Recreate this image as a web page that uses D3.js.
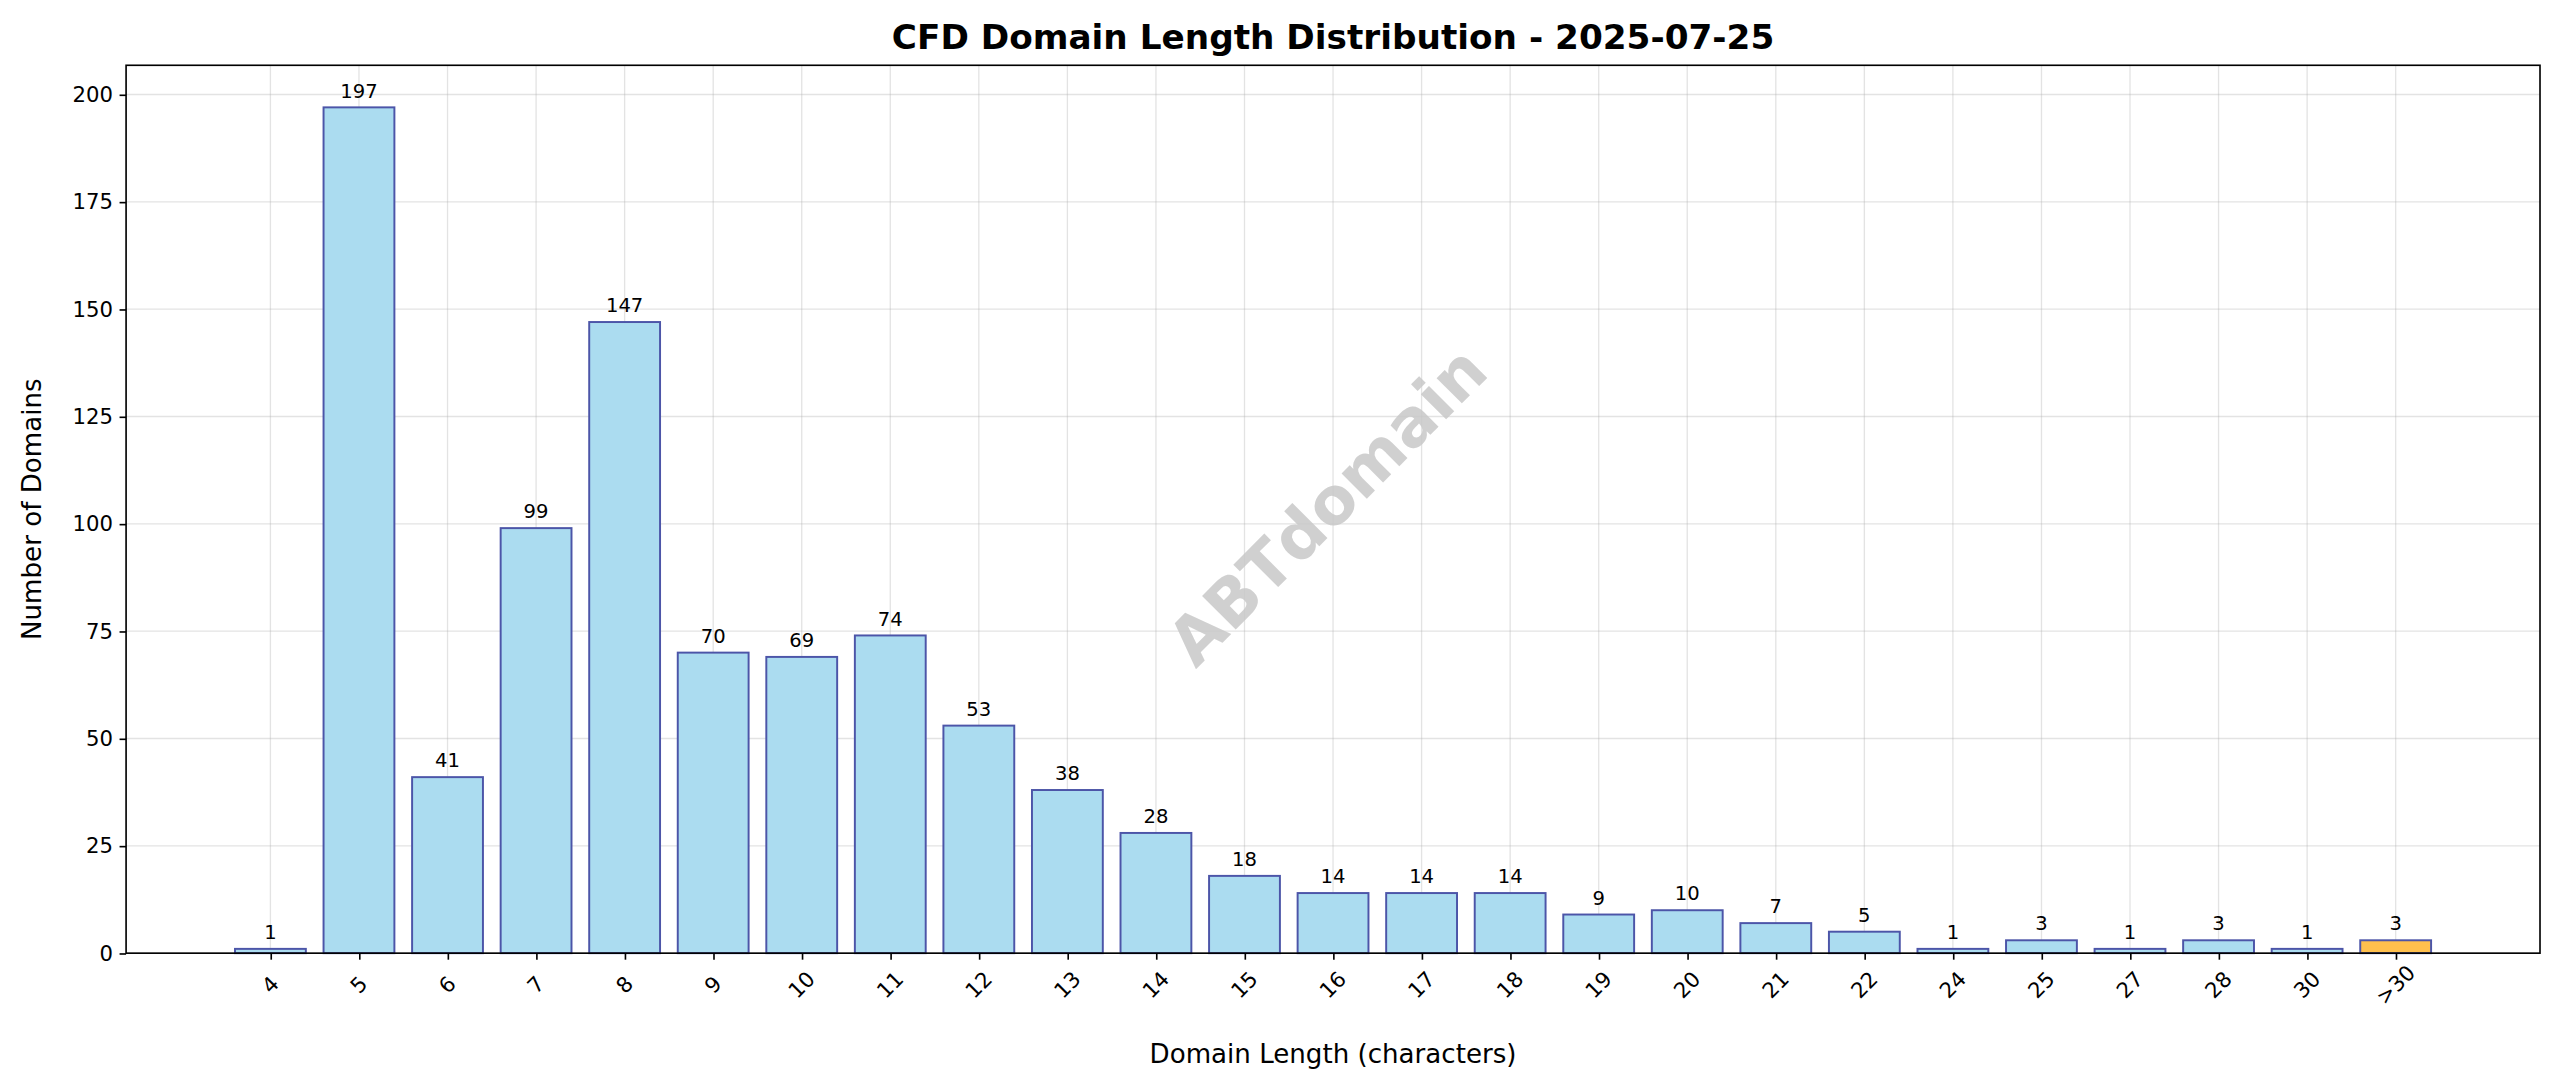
<!DOCTYPE html>
<html>
<head>
<meta charset="utf-8">
<script src="https://cdn.jsdelivr.net/npm/d3@7"></script>
<style>
body { margin: 0; background: #fff; }
text { font-family: "DejaVu Sans", sans-serif; }
</style>
</head>
<body>
<svg id="chart" width="2560" height="1087" viewBox="0 0 1568 666"></svg>
<script>
var categories = ["4","5","6","7","8","9","10","11","12","13","14","15","16","17","18","19","20","21","22","24","25","27","28","30",">30"];
var counts = [1,197,41,99,147,70,69,74,53,38,28,18,14,14,14,9,10,7,5,1,3,1,3,1,3];
var yTicks = [0,25,50,75,100,125,150,175,200];

var margin = {left: 77, top: 40};
var width = 1556 - 77, height = 584 - 40;

var svg = d3.select("#chart");
var g = svg.append("g").attr("transform", "translate(" + margin.left + "," + margin.top + ")");

// categorical positions like matplotlib: index 0..n-1 with padding
var x = d3.scaleLinear().domain([-1.63, categories.length - 1 + 1.63]).range([0, width]);
var y = d3.scaleLinear().domain([0, 206.8]).range([height, 0]);
var bw = x(0.8) - x(0);

// grid
g.append("g").selectAll("line").data(categories).enter().append("line")
	.attr("x1", function(d, i) { return x(i); }).attr("x2", function(d, i) { return x(i); })
	.attr("y1", 0).attr("y2", height)
	.attr("stroke", "#b0b0b0").attr("stroke-opacity", 0.35).attr("stroke-width", 0.8);
g.append("g").selectAll("line").data(yTicks).enter().append("line")
	.attr("x1", 0).attr("x2", width)
	.attr("y1", function(d) { return y(d); }).attr("y2", function(d) { return y(d); })
	.attr("stroke", "#b0b0b0").attr("stroke-opacity", 0.35).attr("stroke-width", 0.8);

// bars
g.selectAll(".bar").data(counts).enter().append("rect")
	.attr("x", function(d, i) { return x(i) - bw / 2; })
	.attr("y", function(d) { return y(d); })
	.attr("width", bw)
	.attr("height", function(d) { return height - y(d); })
	.attr("fill", function(d, i) { return categories[i] === ">30" ? "#ffc04d" : "#abdcf0"; })
	.attr("stroke", "#4c55a8").attr("stroke-width", 1.2);

// value labels
g.selectAll(".val").data(counts).enter().append("text")
	.attr("x", function(d, i) { return x(i); })
	.attr("y", function(d) { return y(d) - 6; })
	.attr("text-anchor", "middle").attr("font-size", 12).attr("fill", "#000")
	.text(function(d) { return d; });

// watermark
g.append("text")
	.attr("transform", "translate(" + (815 - margin.left) + "," + (312 - margin.top) + ") rotate(-45)")
	.attr("text-anchor", "middle").attr("dominant-baseline", "middle")
	.attr("font-size", 40).attr("font-weight", "bold").attr("fill", "#c8c8c8").attr("fill-opacity", 0.85)
	.text("ABTdomain");

// axes
var yAxis = g.append("g").call(d3.axisLeft(y).tickValues(yTicks).tickSize(4).tickPadding(4));
yAxis.selectAll("text").attr("font-size", 13).attr("fill", "#000");
var xAxis = g.append("g").attr("transform", "translate(0," + height + ")")
	.call(d3.axisBottom(x).tickValues(d3.range(categories.length)).tickFormat(function(i) { return categories[i]; }).tickSize(4));
xAxis.selectAll("text").attr("font-size", 13).attr("fill", "#000")
	.attr("text-anchor", "middle").attr("dominant-baseline", "middle")
	.attr("y", 0).attr("dy", 0)
	.attr("transform", "translate(0,20) rotate(-45)");
g.selectAll(".domain").remove();
g.selectAll(".tick line").attr("stroke", "#000");
g.append("rect").attr("width", width).attr("height", height).attr("fill", "none").attr("stroke", "#000").attr("stroke-width", 1);

// labels
svg.append("text").attr("x", 77 + width / 2).attr("y", 30).attr("text-anchor", "middle")
	.attr("font-size", 21).attr("font-weight", "bold").text("CFD Domain Length Distribution - 2025-07-25");
svg.append("text").attr("x", 77 + width / 2).attr("y", 651).attr("text-anchor", "middle")
	.attr("font-size", 16).text("Domain Length (characters)");
svg.append("text").attr("transform", "translate(25," + (40 + height / 2) + ") rotate(-90)")
	.attr("text-anchor", "middle").attr("font-size", 16).text("Number of Domains");
</script>
</body>
</html>
